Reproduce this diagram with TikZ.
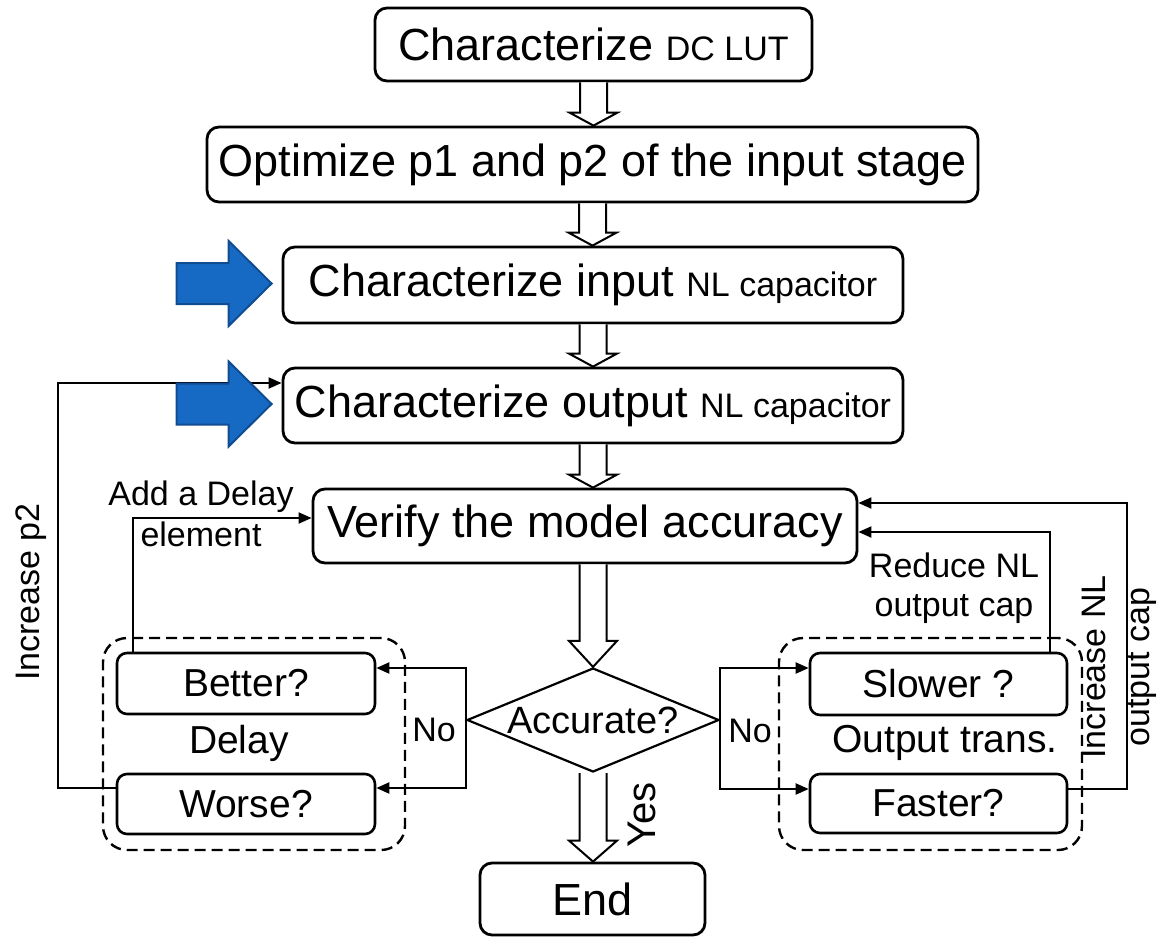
\documentclass[tikz,border=0pt]{standalone}
\usepackage{fontspec}
\setmainfont{Liberation Sans}
\usetikzlibrary{arrows.meta,calc,shapes.geometric}
\newcommand\FontL{\fontsize{45}{52}\selectfont}
\newcommand\FontM{\fontsize{39}{45}\selectfont}
\newcommand\FontS{\fontsize{34}{40}\selectfont}
\definecolor{arrblue}{RGB}{22,106,196}
\definecolor{arrblueline}{RGB}{16,76,146}
\newcommand\harr[3][13]{\draw[harrow] let \p1=#2, \p2=#3 in (\x1-13.5pt,\y1) -- (\x1-13.5pt,\y2+#1pt) -- (\x1-24pt,\y2+#1pt) -- (\x1,\y2) -- (\x1+24pt,\y2+#1pt) -- (\x1+13.5pt,\y2+#1pt) -- (\x1+13.5pt,\y1);}
\newcommand\bluearr[1]{\draw[bluearrow] let \p1=#1 in (\x1-10pt,\y1+1.5pt) -- (\x1-53pt,\y1+44pt) -- (\x1-53pt,\y1+22pt) -- (\x1-105pt,\y1+22pt) -- (\x1-105pt,\y1-19pt) -- (\x1-53pt,\y1-19pt) -- (\x1-53pt,\y1-41pt) -- cycle;}
\begin{document}
\begin{tikzpicture}[x=1pt,y=-1pt,
 box/.style={draw,rounded corners=12pt,line width=2.8pt,inner sep=0pt,font=\FontL},
 sbox/.style={draw,rounded corners=10pt,line width=2.6pt,inner sep=0pt,font=\FontM},
 group/.style={draw,dash pattern=on 11pt off 6pt,line width=2.4pt,rounded corners=24pt,inner sep=0pt},
 conn/.style={line width=2pt,-{Triangle[length=13pt,width=11pt]}},
 harrow/.style={line width=2pt,fill=white,line join=miter},
 bluearrow/.style={fill=arrblue,draw=arrblueline,line width=2pt,line join=miter},
 lbl/.style={inner sep=0pt,font=\FontS}]
\useasboundingbox (0,0) rectangle (1157,938);

% main boxes
\node[box,minimum width=437pt,minimum height=73pt] (b1) at (593.5,44.5) {Characterize {\FontS DC LUT}};
\node[box,minimum width=771pt,minimum height=75pt] (b2) at (592.5,164.5) {Optimize p1 and p2 of the input stage};
\node[box,minimum width=620pt,minimum height=76pt] (b3) at (593,285) {Characterize input {\FontS NL capacitor}};
\node[box,minimum width=620pt,minimum height=75pt] (b4) at (593,405.5) {Characterize output {\FontS NL capacitor}};
\node[box,minimum width=544pt,minimum height=74pt] (b5) at (585,526) {Verify the model accuracy};
\node[draw,diamond,line width=2.2pt,minimum width=252pt,minimum height=104pt,inner sep=0pt,font=\fontsize{38}{44}\selectfont] (d) at (593,720) {\makebox[0pt]{Accurate?}};
\node[box,minimum width=225pt,minimum height=72pt] (e) at (592.5,899) {End};

% groups
\node[group,minimum width=302pt,minimum height=212pt] (gl) at (254,744) {};
\node[group,minimum width=303pt,minimum height=212pt] (gr) at (930.5,744) {};
\node[lbl,font=\FontM] (ldelay) at (239,743) {Delay};
\node[lbl,font=\FontM] (lout) at (945,743) {Output trans.};

% small boxes
\node[sbox,minimum width=258pt,minimum height=61pt] (better) at (246,683.5) {Better?};
\node[sbox,minimum width=258pt,minimum height=60pt] (worse) at (246,804) {Worse?};
\node[sbox,minimum width=257pt,minimum height=62pt] (slower) at (938.5,684) {Slower ?};
\node[sbox,minimum width=257pt,minimum height=59pt] (faster) at (938.5,803.5) {Faster?};

% hollow arrows
\harr{(b1.south)}{(b2.north)}
\harr{(b2.south)}{(b3.north)}
\harr{(b3.south)}{(b4.north)}
\harr{(b4.south)}{(b5.north)}
\harr[26]{(b5.south -| d.north)}{(d.north)}
\harr[21]{(d.south)}{(e.north)}

% coordinates for loops
\coordinate (ip2) at (58,383);
\coordinate (ad) at (133,518);
\coordinate (rd) at (1050,532);
\coordinate (inl) at (1127,503);

% left loops
\draw[conn] ([yshift=16pt]worse.west) -| (ip2) -- (ip2 -| b4.west);
\draw[conn] (ad |- better.north) -- (ad) -- (ad -| b5.west);
% No branches
\draw[conn] (d.west) |- ([yshift=15.5pt]better.east);
\draw[conn] (d.west) |- ([yshift=16pt]worse.east);
\draw[conn] (d.east) |- ([yshift=16pt]slower.west);
\draw[conn] (d.east) |- ([yshift=14.5pt]faster.west);
% right loops
\draw[conn] (rd |- slower.north) -- (rd) -- (rd -| b5.east);
\draw[conn] ([yshift=14.5pt]faster.east) -| (inl) -- (inl -| b5.east);

% blue arrows
\bluearr{(b3.west)}
\bluearr{(b4.west)}

% labels
\node[lbl,rotate=90] (lip2) at (31,592) {Increase p2};
\node[lbl,align=center,font=\fontsize{34}{41}\selectfont] (ladd) at (201,514) {Add a Delay\\element};
\node[lbl] (lno1) at (434,730) {No};
\node[lbl] (lno2) at (750,731) {No};
\node[lbl,align=center,font=\fontsize{34}{39}\selectfont] (lred) at (954,588) {Reduce NL\\output cap};
\node[lbl,align=center,rotate=90,font=\fontsize{34}{44}\selectfont] (linc) at (1119,667) {Increase NL\\output cap};
\node[lbl,rotate=90,font=\fontsize{40}{46}\selectfont] (lyes) at (642,815) {Yes};
\end{tikzpicture}
\end{document}
